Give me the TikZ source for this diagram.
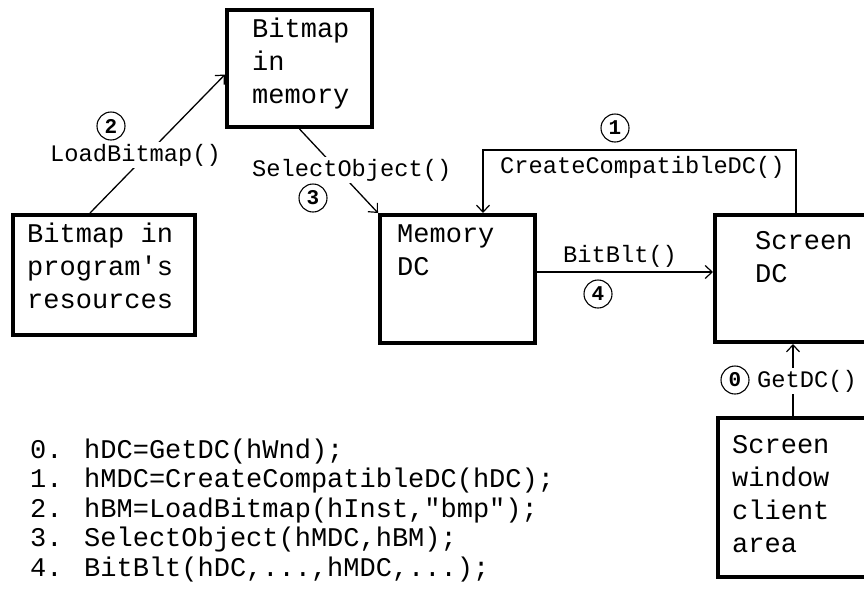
\documentclass[tikz,border=0pt]{standalone}
\usepackage{fontspec}
\usetikzlibrary{arrows.meta}
\newfontfamily\cour{Liberation Mono}[Ligatures=TeXOff]
\newcommand\bxfont{\cour\fontsize{27}{33}\selectfont}
\newcommand\lbfont{\cour\fontsize{23.7}{28}\selectfont}
\newcommand\cdfont{\cour\fontsize{27}{29.5}\selectfont}
\newcommand\nmfont{\cour\bfseries\fontsize{21}{22}\selectfont}
\begin{document}
\begin{tikzpicture}[x=1pt,y=-1pt,
  box/.style={draw, line width=4pt, inner sep=0pt},
  boxtext/.style={font=\bxfont, align=left, inner sep=0pt, anchor=base west},
  lbl/.style={font=\lbfont, inner xsep=0pt, inner ysep=2pt, anchor=base west},
  lblw/.style={lbl, fill=white},
  num/.style={circle, draw, line width=1.1pt, minimum size=28pt, inner sep=0pt, font=\nmfont},
  conn/.style={line width=1.3pt},
  arr/.style={conn, -{Straight Barb[length=7pt,width=13pt,line width=1.2pt]}}
]
\useasboundingbox (0,0) rectangle (864,592);
\fill[white] (0,0) rectangle (864,592);

% boxes
\node[box, minimum width=145pt, minimum height=117pt] (bmem) at (299.5,68.5) {};
\node[box, minimum width=182pt, minimum height=120pt] (bres) at (104,275) {};
\node[box, minimum width=155pt, minimum height=128pt] (bmdc) at (457.5,279) {};
\node[box, minimum width=162pt, minimum height=127pt] (bsdc) at (796,278.5) {};
\node[box, minimum width=162pt, minimum height=159pt] (bwin) at (799,497.5) {};

% box texts (anchor = baseline of the last line)
\node[boxtext] (tmem) at (252,103) {Bitmap\\in\\memory};
\node[boxtext] (tres) at (27,308) {Bitmap in\\program's\\resources};
\node[boxtext] (tmdc) at (397,275) {Memory\\DC};
\node[boxtext] (tsdc) at (755,282) {Screen\\DC};
\node[boxtext] (twin) at (732,552) {Screen\\window\\client\\area};

% helper coordinates
\coordinate (ctop) at (483,150);
\coordinate (yb) at (0,272);
\coordinate (xg) at (793,0);

% connectors
\draw[arr] ([xshift=-14pt]bres.north) -- ([yshift=-6pt]bmem.west);
\draw[arr] (bmem.south) -- (bmdc.north west);
\draw[arr] (bsdc.north) |- (ctop) -- (ctop |- bmdc.north);
\draw[arr] (bmdc.east |- yb) -- (bsdc.west |- yb);
\draw[arr] (bwin.north -| xg) -- (bsdc.south -| xg);

% labels
\node[lblw] (lload) at (50,161) {LoadBitmap()};
\node[lblw] (lsel) at (252,176) {SelectObject()};
\node[lbl] (lccd) at (500,173) {CreateCompatibleDC()};
\node[lbl] (lbit) at (563,262) {BitBlt()};
\node[lblw] (lget) at (757,387) {GetDC()};

% step numbers
\node[num] (n0) at (735,380) {0};
\node[num] (n1) at (615,128) {1};
\node[num] (n2) at (111,126) {2};
\node[num] (n3) at (313,198) {3};
\node[num] (n4) at (598,294) {4};

% code list (anchor = baseline of the last line)
\node[font=\cdfont, align=left, inner sep=0pt, anchor=base west] (code) at (30,576)
 {0. hDC=GetDC(hWnd);\\
  1. hMDC=CreateCompatibleDC(hDC);\\
  2. hBM=LoadBitmap(hInst,"bmp");\\
  3. SelectObject(hMDC,hBM);\\
  4. BitBlt(hDC,...,hMDC,...);};
\end{tikzpicture}
\end{document}
